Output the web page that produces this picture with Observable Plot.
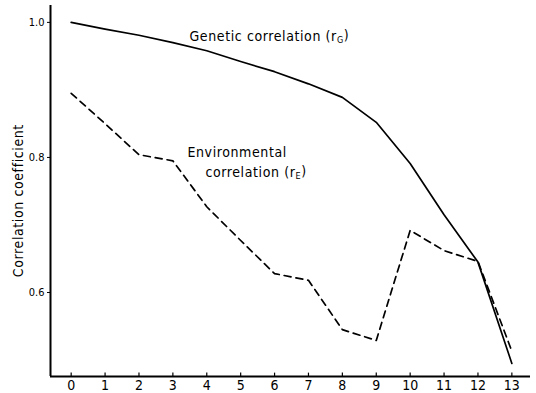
<!DOCTYPE html>
<html>
<head>
<meta charset="utf-8">
<script src="https://cdn.jsdelivr.net/npm/d3@7"></script>
<script src="https://cdn.jsdelivr.net/npm/@observablehq/plot@0.6"></script>
<style>
  body { margin: 0; background: #fff; }
  #chart svg { font-family: "Liberation Sans Narrow", "DejaVu Sans Condensed", "Liberation Sans", sans-serif; }
  #chart svg .lbl { letter-spacing: 0.6px; }
</style>
</head>
<body>
<div id="chart"></div>
<script>
// Data
const stage = [0, 1, 2, 3, 4, 5, 6, 7, 8, 9, 10, 11, 12, 13];
const genetic = [1.000, 0.990, 0.981, 0.970, 0.958, 0.942, 0.927, 0.909, 0.889, 0.852, 0.791, 0.715, 0.645, 0.495];
const environmental = [0.895, 0.850, 0.804, 0.795, 0.727, 0.677, 0.628, 0.618, 0.545, 0.529, 0.692, 0.662, 0.646, 0.513];
const xTicks = [0, 1, 2, 3, 4, 5, 6, 7, 8, 9, 10, 11, 12, 13];
const yTicks = [0.6, 0.8, 1.0];
const xDomain = [-0.61, 13.55];
const yDomain = [0.4756, 1.025];
const geneticLabel = "Genetic correlation (rG)";
const envLabel1 = "Environmental";
const envLabel2 = "correlation (rE)";
const yTitle = "Correlation coefficient";

const gData = stage.map((s, i) => ({x: s, y: genetic[i]}));
const eData = stage.map((s, i) => ({x: s, y: environmental[i]}));

const chart = Plot.plot({
  width: 536,
  height: 393,
  marginLeft: 50,
  marginRight: 6,
  marginTop: 5,
  marginBottom: 17,
  x: {domain: xDomain},
  y: {domain: yDomain},
  marks: [
    Plot.axisX({ticks: xTicks, tickSize: 0, tickPadding: 4, fontSize: 14, tickFormat: d => String(d), label: null}),
    Plot.axisY({ticks: yTicks, tickSize: 3, tickPadding: 3, fontSize: 11, tickFormat: d => d.toFixed(1), label: null}),
    Plot.ruleX(xTicks, {x: d => d, y1: yDomain[0], y2: yDomain[0] + 0.005, stroke: "#000", strokeWidth: 1.2}),
    Plot.ruleX([xDomain[0]], {stroke: "#000", strokeWidth: 2}),
    Plot.ruleY([yDomain[0]], {stroke: "#000", strokeWidth: 2}),
    Plot.line(gData, {x: "x", y: "y", stroke: "#000", strokeWidth: 1.7}),
    Plot.line(eData, {x: "x", y: "y", stroke: "#000", strokeWidth: 1.7, strokeDasharray: "7,5"}),
    Plot.text([geneticLabel], {x: 3.49, y: 0.979, text: d => d, textAnchor: "start", fontSize: 14, fill: "#000", className: "lbl"}),
    Plot.text([envLabel1], {x: 3.43, y: 0.807, text: d => d, textAnchor: "start", fontSize: 14, fill: "#000", className: "lbl"}),
    Plot.text([envLabel2], {x: 3.96, y: 0.778, text: d => d, textAnchor: "start", fontSize: 14, fill: "#000", className: "lbl"}),
    Plot.text([yTitle], {frameAnchor: "left", y: 0.736, text: d => d, rotate: -90, dx: -32, textAnchor: "middle", fontSize: 14, fill: "#000", className: "lbl"})
  ]
});

// Render subscripts in the annotation labels
d3.select(chart).selectAll("text").each(function () {
  const t = this.textContent;
  const m = t.match(/^(.*\(r)([GE])\)$/);
  if (m) {
    const el = d3.select(this);
    el.text(null);
    el.append("tspan").text(m[1]);
    el.append("tspan").attr("font-size", 9).attr("dy", "0.25em").text(m[2]);
    el.append("tspan").attr("dy", "-0.25em").text(")");
  }
});

document.getElementById("chart").appendChild(chart);
</script>
</body>
</html>
